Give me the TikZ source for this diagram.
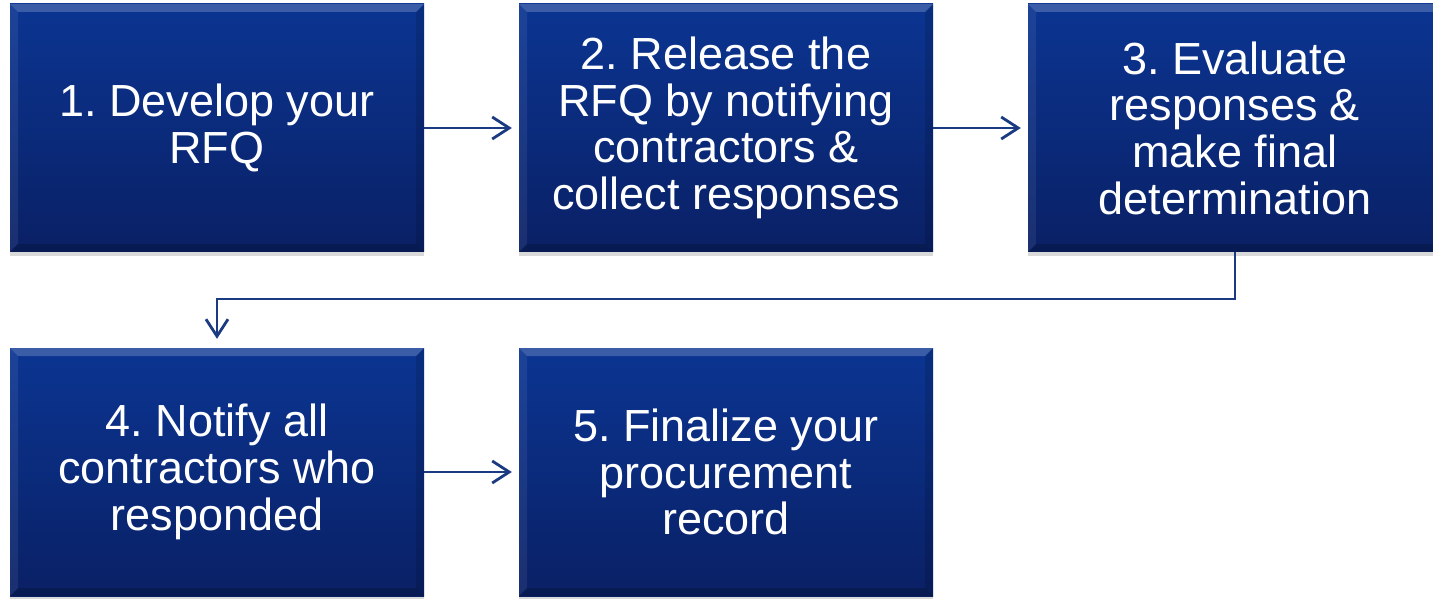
\documentclass[tikz,border=0pt]{standalone}
\usepackage{fontspec}
\setmainfont{Liberation Sans}
\usetikzlibrary{arrows.meta,shadows}
\definecolor{boxtop}{HTML}{0B3592}
\definecolor{boxbot}{HTML}{0A2065}
\definecolor{linecol}{HTML}{1A3A82}
\frenchspacing
\tikzset{
  procbox/.style={minimum width=414pt, minimum height=248pt, inner sep=0pt,
    align=center, text=white, font=\fontsize{45}{46.7}\selectfont,
    top color=boxtop, bottom color=boxbot,
    drop shadow={shadow xshift=0pt, shadow yshift=-4pt, opacity=0.25, fill=black!60},
    path picture={
      \fill[white, opacity=0.2] (path picture bounding box.north west) -- (path picture bounding box.north east)
        -- ([shift={(-8pt,-8pt)}]path picture bounding box.north east) -- ([shift={(8pt,-8pt)}]path picture bounding box.north west) -- cycle;
      \fill[white, opacity=0.07] (path picture bounding box.north west) -- ([shift={(8pt,-8pt)}]path picture bounding box.north west)
        -- ([shift={(8pt,8pt)}]path picture bounding box.south west) -- (path picture bounding box.south west) -- cycle;
      \fill[black, opacity=0.12] (path picture bounding box.north east) -- ([shift={(-8pt,-8pt)}]path picture bounding box.north east)
        -- ([shift={(-8pt,8pt)}]path picture bounding box.south east) -- (path picture bounding box.south east) -- cycle;
      \fill[black, opacity=0.18] (path picture bounding box.south west) -- (path picture bounding box.south east)
        -- ([shift={(-8pt,8pt)}]path picture bounding box.south east) -- ([shift={(8pt,8pt)}]path picture bounding box.south west) -- cycle;
    }},
  flow/.style={draw=linecol, line width=2.8pt, -{Straight Barb[length=17pt, width=22pt, line width=2.8pt]}}
}
\begin{document}
\begin{tikzpicture}[x=1pt, y=1pt]
\useasboundingbox (0,0) rectangle (1433,598);
\begin{scope}
\clip (0,0) rectangle (1433,598);
\node[procbox] (b1) at (217,470) {1. Develop your\\RFQ};
\node[procbox] (b2) at (726,470) {2. Release the\\RFQ by notifying\\contractors \&\\collect responses};
\node[procbox] (b3) at (1235,470) {3. Evaluate\\responses \&\\make final\\determination};
\node[procbox] (b4) at (217,126) {4. Notify all\\contractors who\\responded};
\node[procbox] (b5) at (726,126) {5. Finalize your\\procurement\\record};
\draw[flow, shorten >=7pt] (b1.east) -- (b2.west);
\draw[flow, shorten >=7pt] (b2.east) -- (b3.west);
\draw[flow, shorten >=7pt] (b4.east) -- (b5.west);
\coordinate (elbow) at (1235,299);
\draw[flow, shorten >=9pt] (b3.south) -- (elbow) -| (b4.north);
\end{scope}
\end{tikzpicture}
\end{document}
